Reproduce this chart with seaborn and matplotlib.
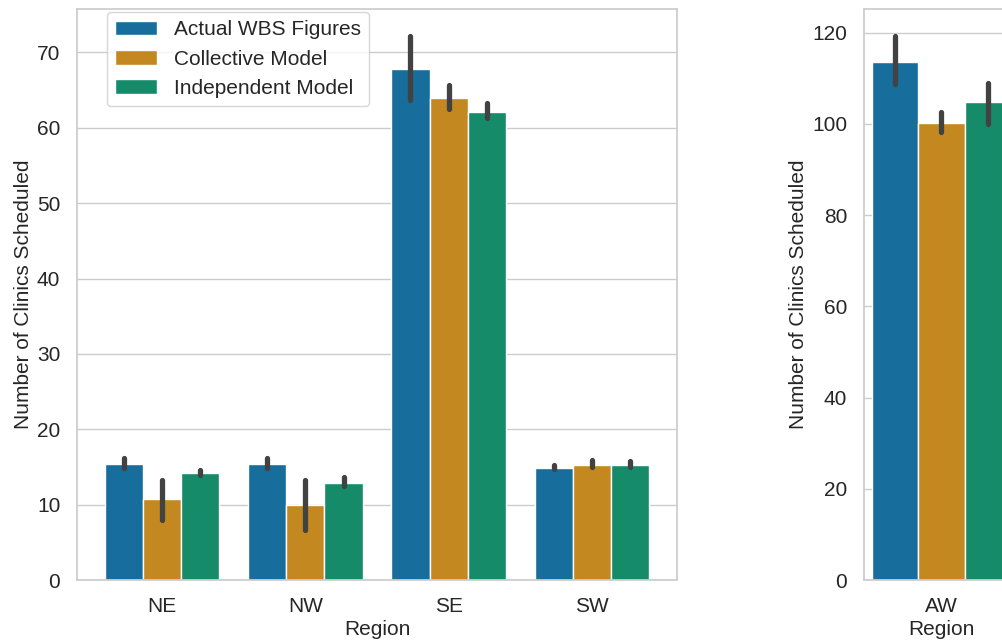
import matplotlib
matplotlib.use("Agg")
import matplotlib.pyplot as plt
import pandas as pd
import seaborn as sns

# Regional breakdown (left panel)
regions = ["NE", "NW", "SE", "SW"]
sources = ["Actual WBS Figures", "Collective Model", "Independent Model"]

actual_mean = [15.35, 15.35, 67.8, 14.85]
actual_low = [14.8, 14.8, 63.7, 14.7]
actual_high = [16.15, 16.2, 72.15, 15.2]

collective_mean = [10.7, 9.95, 64.0, 15.25]
collective_low = [8.0, 6.65, 62.45, 14.95]
collective_high = [13.3, 13.3, 65.7, 15.95]

independent_mean = [14.2, 12.9, 62.1, 15.25]
independent_low = [13.95, 12.45, 61.3, 15.05]
independent_high = [14.65, 13.7, 63.25, 15.75]

# All-Wales panel (right, cut off at the figure edge)
aw_regions = ["AW"]
aw_mean = [113.6, 100.2, 104.7]
aw_low = [108.7, 98.2, 100.0]
aw_high = [119.2, 102.5, 108.9]


def long_frame(region_list, means, lows, highs):
    # three rows per bar: low / mean / high -> median gives the bar, min/max the interval
    rows = []
    for src, m, lo, hi in zip(sources, means, lows, highs):
        for i, reg in enumerate(region_list):
            for v in (lo[i], m[i], hi[i]):
                rows.append({"Region": reg, "Source": src, "Clinics": v})
    return pd.DataFrame(rows)


left_df = long_frame(
    regions,
    [actual_mean, collective_mean, independent_mean],
    [actual_low, collective_low, independent_low],
    [actual_high, collective_high, independent_high],
)
right_df = long_frame(
    aw_regions,
    [[v] for v in aw_mean],
    [[v] for v in aw_low],
    [[v] for v in aw_high],
)

sns.set_theme(style="whitegrid", palette="colorblind")
plt.rcParams["font.family"] = ["Liberation Sans", "DejaVu Sans"]
plt.rcParams["font.size"] = 15
plt.rcParams["axes.labelsize"] = 15
plt.rcParams["xtick.labelsize"] = 15
plt.rcParams["ytick.labelsize"] = 15
plt.rcParams["legend.fontsize"] = 15
plt.rcParams["xtick.major.pad"] = 6
plt.rcParams["ytick.major.pad"] = 6
plt.rcParams["axes.labelpad"] = 3

fig = plt.figure(figsize=(10.03, 6.41), dpi=100)
ax1 = fig.add_axes([77 / 1003, 61 / 641, 600 / 1003, 571 / 641])
ax2 = fig.add_axes([864 / 1003, 61 / 641, 155 / 1003, 571 / 641])

err = {"color": ".26", "linewidth": 3.8, "solid_capstyle": "round"}
spread = lambda v: (v.min(), v.max())

sns.barplot(data=left_df, x="Region", y="Clinics", hue="Source", order=regions,
            hue_order=sources, estimator="median", errorbar=spread,
            err_kws=err, ax=ax1)
sns.barplot(data=right_df, x="Region", y="Clinics", hue="Source", order=aw_regions,
            hue_order=sources, estimator="median", errorbar=spread,
            err_kws=err, legend=False, ax=ax2)

ax1.set_xlim(-0.594, 3.594)
ax2.set_xlim(-0.449, 0.449)

for ax in (ax1, ax2):
    ax.set_ylabel("Number of Clinics Scheduled")
    ax.set_xlabel("Region")

sns.move_legend(ax1, "upper left", bbox_to_anchor=(0.05, 0.995), borderaxespad=0,
                title=None, frameon=True)

fig.savefig("out.png", dpi=100)
